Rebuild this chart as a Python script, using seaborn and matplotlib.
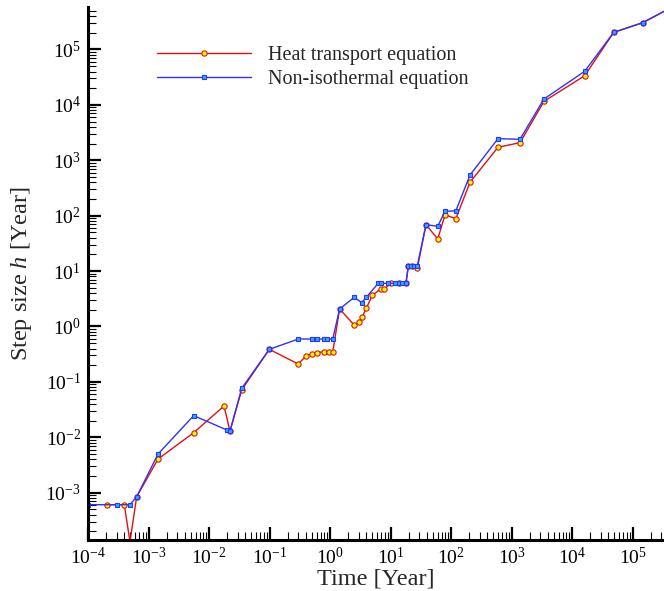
import matplotlib
matplotlib.use("Agg")
import matplotlib.pyplot as plt
import seaborn as sns
import numpy as np
import pandas as pd
from matplotlib.ticker import LogLocator, LogFormatterSciNotation, NullFormatter

# ---- data ----
heat_time = [2.04e-4, 3.98e-4, 4.94e-4, 6.38e-4, 1.44e-3, 5.58e-3, 0.0177, 0.0222,
             0.0347, 0.0993, 0.299, 0.401, 0.499, 0.603, 0.796, 0.962, 1.11, 1.44,
             2.52, 3.01, 3.42, 3.98, 5.0, 6.88, 7.9, 10.1, 13.8, 18.0, 19.7, 23.0,
             27.7, 38.6, 60.3, 79.6, 120, 206, 598, 1380, 3440, 16200, 48900,
             147600, 500000]
heat_step = [6.07e-4, 6.07e-4, 1.3e-4, 8.47e-4, 4.06e-3, 0.0121, 0.0367, 0.0130,
             0.0715, 0.387, 0.210, 0.294, 0.319, 0.337, 0.351, 0.351, 0.347, 2.07,
             1.06, 1.19, 1.50, 2.13, 3.66, 4.75, 4.75, 6.03, 6.03, 6.03, 12.4, 12.4,
             11.2, 68.9, 37.9, 104, 88.3, 401, 1718, 2080, 11600, 33650, 204000,
             305000, 620000]

noniso_time = [1.01e-4, 2.98e-4, 4.94e-4, 6.38e-4, 1.44e-3, 5.58e-3, 0.0199, 0.0222,
               0.0347, 0.0993, 0.299, 0.499, 0.603, 0.796, 0.902, 1.11, 1.44, 2.52,
               3.34, 3.98, 6.28, 6.88, 9.2, 11.9, 13.8, 15.7, 18.0, 19.7, 21.8, 24.4,
               27.7, 38.6, 60.3, 79.6, 120, 206, 598, 1380, 3440, 16200, 48900,
               147600, 500000]
noniso_step = [6.07e-4, 6.07e-4, 6.07e-4, 8.47e-4, 5.0e-3, 0.0246, 0.0135, 0.0128,
               0.0765, 0.387, 0.594, 0.594, 0.594, 0.594, 0.594, 0.594, 2.07, 3.37,
               2.69, 3.37, 6.03, 6.03, 6.03, 6.03, 6.03, 6.03, 6.03, 12.4, 12.4, 12.4,
               12.4, 68.9, 64.4, 120, 122, 543, 2455, 2395, 12800, 40400, 204000,
               305000, 620000]

x_ticks = [1e-4, 1e-3, 1e-2, 1e-1, 1e0, 1e1, 1e2, 1e3, 1e4, 1e5]
y_ticks = [1e-3, 1e-2, 1e-1, 1e0, 1e1, 1e2, 1e3, 1e4, 1e5]

series_labels = ["Heat transport equation", "Non-isothermal equation"]
x_label = "Time [Year]"
y_label = r"Step size $\mathit{h}$ [Year]"

heat_df = pd.DataFrame({"t": heat_time, "h": heat_step})
noniso_df = pd.DataFrame({"t": noniso_time, "h": noniso_step})

# ---- style ----
sns.set_style("ticks")
plt.rcParams["font.family"] = ["Liberation Serif", "DejaVu Serif"]
plt.rcParams["mathtext.fontset"] = "custom"
plt.rcParams["mathtext.rm"] = "Liberation Serif"
plt.rcParams["mathtext.it"] = "Liberation Serif:italic"
plt.rcParams["mathtext.default"] = "regular"
plt.rcParams["axes.unicode_minus"] = False

fig = plt.figure(figsize=(6.64, 5.91), dpi=100)
ax = fig.add_axes([88 / 664, 51 / 591, 576 / 664, 533 / 591])
ax.set_xscale("log")
ax.set_yscale("log")

red = "#e01010"
blue = "#3030ff"

sns.lineplot(data=heat_df, x="t", y="h", ax=ax, sort=False, estimator=None,
             color=red, linewidth=1.0, marker="o", markersize=3.8,
             markerfacecolor="#ffff00", markeredgecolor=red, markeredgewidth=0.8,
             label=series_labels[0])
sns.lineplot(data=noniso_df, x="t", y="h", ax=ax, sort=False, estimator=None,
             color=blue, linewidth=1.0, marker="s", markersize=3.2,
             markerfacecolor="#22b0ff", markeredgecolor=blue, markeredgewidth=0.8,
             label=series_labels[1])

ax.set_xlim(1e-4, 10 ** 5.52)
ax.set_ylim(10 ** -3.854, 10 ** 5.767)

ax.spines["top"].set_visible(False)
ax.spines["right"].set_visible(False)
for s in ("left", "bottom"):
    ax.spines[s].set_linewidth(2.2)
    ax.spines[s].set_color("black")

ax.set_xticks(x_ticks)
ax.set_yticks(y_ticks)
ax.xaxis.set_minor_locator(LogLocator(base=10, subs=np.arange(2, 10), numticks=20))
ax.yaxis.set_minor_locator(LogLocator(base=10, subs=np.arange(2, 10), numticks=20))
ax.xaxis.set_major_formatter(LogFormatterSciNotation())
ax.yaxis.set_major_formatter(LogFormatterSciNotation())
ax.xaxis.set_minor_formatter(NullFormatter())
ax.yaxis.set_minor_formatter(NullFormatter())

ax.tick_params(which="major", direction="in", length=9.5, width=1.6,
               labelsize=14, color="black", labelcolor="black")
ax.tick_params(which="minor", direction="in", length=5.5, width=0.8, color="black")
ax.tick_params(axis="x", which="major", pad=5)
ax.tick_params(axis="y", which="major", pad=5)

ax.set_xlabel(x_label, fontsize=17.5, labelpad=0)
ax.set_ylabel(y_label, fontsize=17.5, labelpad=8)

ax.legend(loc="upper left", bbox_to_anchor=(157 / 664, 1 - 45.5 / 591),
          bbox_transform=fig.transFigure, frameon=False, fontsize=14.5,
          handlelength=4.65, handletextpad=0.85, labelspacing=0.25,
          borderpad=0, borderaxespad=0, numpoints=1)

fig.savefig("out.png", dpi=100)
